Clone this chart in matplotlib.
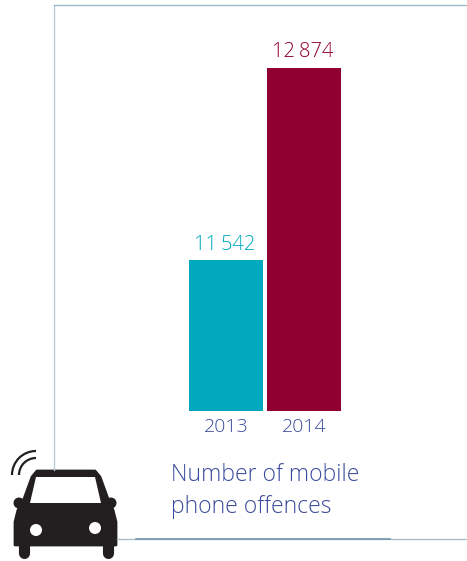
# -*- coding: utf-8 -*-
"""
Number of mobile phone offences, 2013 / 2014
"""
import matplotlib
matplotlib.use('Agg')
import matplotlib.pyplot as plt
from matplotlib.patches import Circle, Arc, Polygon

#%% Data
years = ['2013', '2014']
offences = [11542, 12874]
value_labels = ['11\u2009542', '12\u2009874']
bar_colors = ['#00A9BE', '#900030']
title_lines = ['Number of mobile', 'phone offences']

W, H = 467, 561
TEXT_BLUE = '#3A4A9C'
plt.rcParams['font.family'] = ['Open Sans', 'DejaVu Sans']

fig = plt.figure(figsize=(W / 100, H / 100), dpi=100)

#%% Chart : bars do not start at zero, the axis is cut at 10500
ax = fig.add_axes([54 / W, 1 - 411 / H, (W - 54) / W, (411 - 5) / H])
ax.patch.set_alpha(0)
ax.bar(range(2), offences, width=0.949, color=bar_colors)
ax.set_xlim(-2.205, 3.09)
ax.set_ylim(10500, 13310)
ax.set_yticks([])
ax.set_xticks(range(2))
ax.set_xticklabels(years, fontsize=14, color=TEXT_BLUE, fontweight='light')
ax.tick_params(axis='x', length=0, pad=5)
for side in ax.spines:
    ax.spines[side].set_visible(False)
for i in range(2):
    ax.annotate(value_labels[i], (i - 0.02, offences[i]), xytext=(0, 4), textcoords='offset points',
                ha='center', va='bottom', fontsize=14.5, color=bar_colors[i], fontweight='light')

#%% Frame, title and icon in pixel coordinates
deco = fig.add_axes([0, 0, 1, 1])
deco.set_xlim(0, W)
deco.set_ylim(H, 0)
deco.axis('off')
deco.patch.set_alpha(0)

deco.plot([54, 54], [470, 4.5], color='#B4CAD4', lw=0.9)
deco.plot([54, 467], [4.5, 4.5], color='#96B4C2', lw=0.9)
deco.plot([117, 467], [539, 539], color='#A3BBC7', lw=0.9)
deco.plot([136, 390], [539, 539], color='#6F97AB', lw=1.2)

deco.text(171, 481, title_lines[0], fontsize=16.5, color=TEXT_BLUE, va='baseline', fontweight='light')
deco.text(171, 513, title_lines[1], fontsize=16.5, color=TEXT_BLUE, va='baseline', fontweight='light')

#%% Car icon
CAR = '#231F20'
body = [(37, 471), (95, 471), (100, 477), (108, 499), (113, 510), (116, 522), (116, 545),
        (15, 545), (15, 522), (18, 510), (24, 499), (32, 477)]
deco.add_patch(Polygon(body, closed=True, facecolor=CAR, edgecolor=CAR, lw=2, joinstyle='round'))
deco.add_patch(Polygon([(36, 477), (95, 477), (101, 503), (30, 503)], closed=True, color='white', lw=0))
for cx in (19, 111):
    deco.add_patch(Circle((cx, 503), 5.5, color=CAR, lw=0))
for cx in (23.5, 108):
    deco.plot([cx, cx], [545, 553], color=CAR, lw=8, solid_capstyle='round')
deco.add_patch(Circle((36, 530), 6, color='white', lw=0))
deco.add_patch(Circle((95, 528), 6, color='white', lw=0))
for r in (24, 17):
    deco.add_patch(Arc((36, 475), 2 * r, 2 * r, theta1=180, theta2=270, color=CAR, lw=1.6))

fig.savefig('out.png', dpi=100)
